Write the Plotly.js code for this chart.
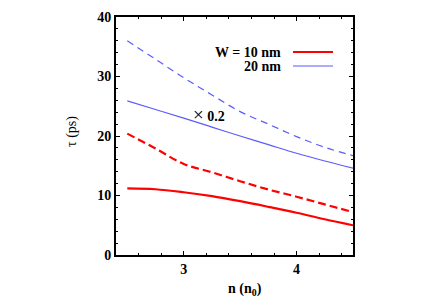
<!DOCTYPE html>
<html>
<head>
<meta charset="utf-8">
<script src="https://cdn.plot.ly/plotly-3.0.1.min.js"></script>
<style>html,body{margin:0;padding:0;background:#fff;}#chart{width:428px;height:300px;}</style>
</head>
<body>
<div id="chart"></div>
<script>
const n = [2.5, 2.75, 3.0, 3.25, 3.5, 3.75, 4.0, 4.25, 4.5];
const w10Solid = [11.2, 11.05, 10.55, 9.9, 9.05, 8.1, 7.1, 6.0, 5.0];
const w10Dashed = [20.4, 17.9, 15.3, 13.9, 12.4, 11.0, 9.8, 8.5, 7.2];
const w20Solid = [25.9, 24.45, 23.0, 21.5, 20.0, 18.55, 17.1, 15.8, 14.6];
const w20Dashed = [36.0, 32.9, 29.8, 26.9, 24.1, 22.0, 19.9, 18.1, 16.7];
const legendLabels = ['W = 10 nm', '20 nm'];
const scaleLabel = '<span style="font-size:19px;font-weight:normal">×</span> 0.2';
const xTitle = 'n (n<sub>0</sub>)';
const yTitle = 'τ (ps)';

const red = '#ff0000';
const blue = '#5b5bff';
const fontFam = 'Liberation Serif, Times New Roman, serif';

const traces = [
  {x: n, y: w10Solid, mode: 'lines', line: {color: red, width: 2.2, shape: 'spline'}},
  {x: n, y: w10Dashed, mode: 'lines', line: {color: red, width: 2.2, dash: '8px,4px', shape: 'spline'}},
  {x: n, y: w20Solid, mode: 'lines', line: {color: blue, width: 1.2, shape: 'spline'}},
  {x: n, y: w20Dashed, mode: 'lines', line: {color: blue, width: 1.2, dash: '7px,5px', shape: 'spline'}}
];

const axisCommon = {
  showgrid: false, zeroline: false, showline: true, linecolor: '#000', linewidth: 2,
  mirror: 'allticks', ticks: 'inside', ticklen: 4, tickwidth: 1, tickcolor: '#000',
  tickfont: {family: fontFam, size: 14, color: '#000', weight: 'bold'}
};

const layout = {
  width: 428, height: 300,
  margin: {l: 116, r: 75, t: 17, b: 45},
  paper_bgcolor: '#fff', plot_bgcolor: '#fff',
  showlegend: false,
  xaxis: Object.assign({}, axisCommon, {
    range: [2.4, 4.5], dtick: 1, tick0: 0,
    minor: {dtick: 0.2, tick0: 0, ticks: 'inside', ticklen: 2, tickcolor: '#000', tickwidth: 1}
  }),
  yaxis: Object.assign({}, axisCommon, {
    range: [0, 40], dtick: 10, tick0: 0,
    minor: {dtick: 2, tick0: 0, ticks: 'inside', ticklen: 2, tickcolor: '#000', tickwidth: 1}
  }),
  annotations: [
    {xref: 'paper', yref: 'paper', x: (283 - 116) / 237, y: (255 - 52) / 238, xanchor: 'right', yanchor: 'middle',
     text: legendLabels[0], showarrow: false, font: {family: fontFam, size: 14, color: '#000', weight: 'bold'}},
    {xref: 'paper', yref: 'paper', x: (283 - 116) / 237, y: (255 - 66) / 238, xanchor: 'right', yanchor: 'middle',
     text: legendLabels[1], showarrow: false, font: {family: fontFam, size: 14, color: '#000', weight: 'bold'}},
    {xref: 'x', yref: 'y', x: 3.22, y: 23.6, xanchor: 'center', yanchor: 'middle',
     text: scaleLabel, showarrow: false, font: {family: fontFam, size: 14, color: '#000', weight: 'bold'}},
    {xref: 'paper', yref: 'paper', x: (245 - 116) / 237, y: -(289 - 255) / 238, xanchor: 'center', yanchor: 'middle',
     text: xTitle, showarrow: false, font: {family: fontFam, size: 14, color: '#000', weight: 'bold'}},
    {xref: 'paper', yref: 'paper', x: -(116 - 72) / 237, y: (255 - 132) / 238, xanchor: 'center', yanchor: 'middle',
     text: yTitle, textangle: -90, showarrow: false, font: {family: fontFam, size: 14, color: '#000'}}
  ],
  shapes: [
    {type: 'line', xref: 'paper', yref: 'paper', x0: (293 - 116) / 237, x1: (333 - 116) / 237,
     y0: (255 - 52) / 238, y1: (255 - 52) / 238, line: {color: red, width: 2.2}},
    {type: 'line', xref: 'paper', yref: 'paper', x0: (293 - 116) / 237, x1: (333 - 116) / 237,
     y0: (255 - 66) / 238, y1: (255 - 66) / 238, line: {color: blue, width: 1.2}}
  ]
};

Plotly.newPlot('chart', traces, layout, {staticPlot: true, displayModeBar: false});
</script>
</body>
</html>
